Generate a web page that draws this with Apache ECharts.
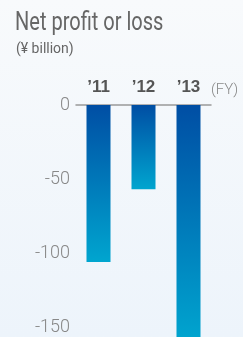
<!DOCTYPE html>
<html><head><meta charset="utf-8">
<script src="https://cdn.jsdelivr.net/npm/echarts@6/dist/echarts.min.js"></script>
<style>html,body{margin:0;padding:0;}#c{width:243px;height:337px;}</style>
</head><body><div id="c"></div>
<script>
const categories = ["\u201911", "\u201912", "\u201913"];
const netProfit = [-106, -57, -160];
const yTicks = [0, -50, -100, -150, -200];

const chart = echarts.init(document.getElementById('c'), null, {renderer: 'canvas'});
const barColor = new echarts.graphic.LinearGradient(0, 0, 0, 1, [
  {offset: 0, color: '#004ea4'},
  {offset: 1, color: '#00a5cf'}
]);
chart.setOption({
  backgroundColor: new echarts.graphic.LinearGradient(0, 0, 0, 1, [
    {offset: 0, color: '#f8fafc'},
    {offset: 1, color: '#edf4fb'}
  ]),
  animation: false,
  graphic: [{
    type: 'text', x: 15, y: 10, scaleX: 0.77,
    style: {text: 'Net profit or loss', fontFamily: 'Roboto, sans-serif', fontWeight: 'normal', fontSize: 26, fill: '#666'}
  }, {
    type: 'text', x: 16, y: 42,
    style: {text: '(\u00a5 billion)', fontFamily: 'Roboto, sans-serif', fontSize: 14, fill: '#666'}
  }, {
    type: 'text', left: 211, top: 83,
    style: {text: '(FY)', fontFamily: 'Roboto, sans-serif', fontWeight: 300, fontSize: 15, fill: '#888'}
  }],
  grid: {left: 76, width: 135, top: 105, height: 296, outerBoundsMode: 'none', containLabel: false},
  xAxis: {
    type: 'category', data: categories, position: 'top',
    axisLine: {lineStyle: {color: '#999', width: 1.5}},
    axisTick: {show: false},
    axisLabel: {margin: 9, fontFamily: '"Liberation Sans", sans-serif', fontWeight: 'bold', fontSize: 17, color: '#555'}
  },
  yAxis: {
    type: 'value', min: -200, max: 0, interval: 50,
    splitLine: {show: false},
    axisLine: {show: false}, axisTick: {show: false},
    axisLabel: {margin: 6, fontFamily: 'Roboto, sans-serif', fontWeight: 300, fontSize: 18, color: '#888'}
  },
  series: [{
    type: 'bar', data: netProfit, barWidth: 24,
    itemStyle: {color: barColor}
  }]
});
</script></body></html>
